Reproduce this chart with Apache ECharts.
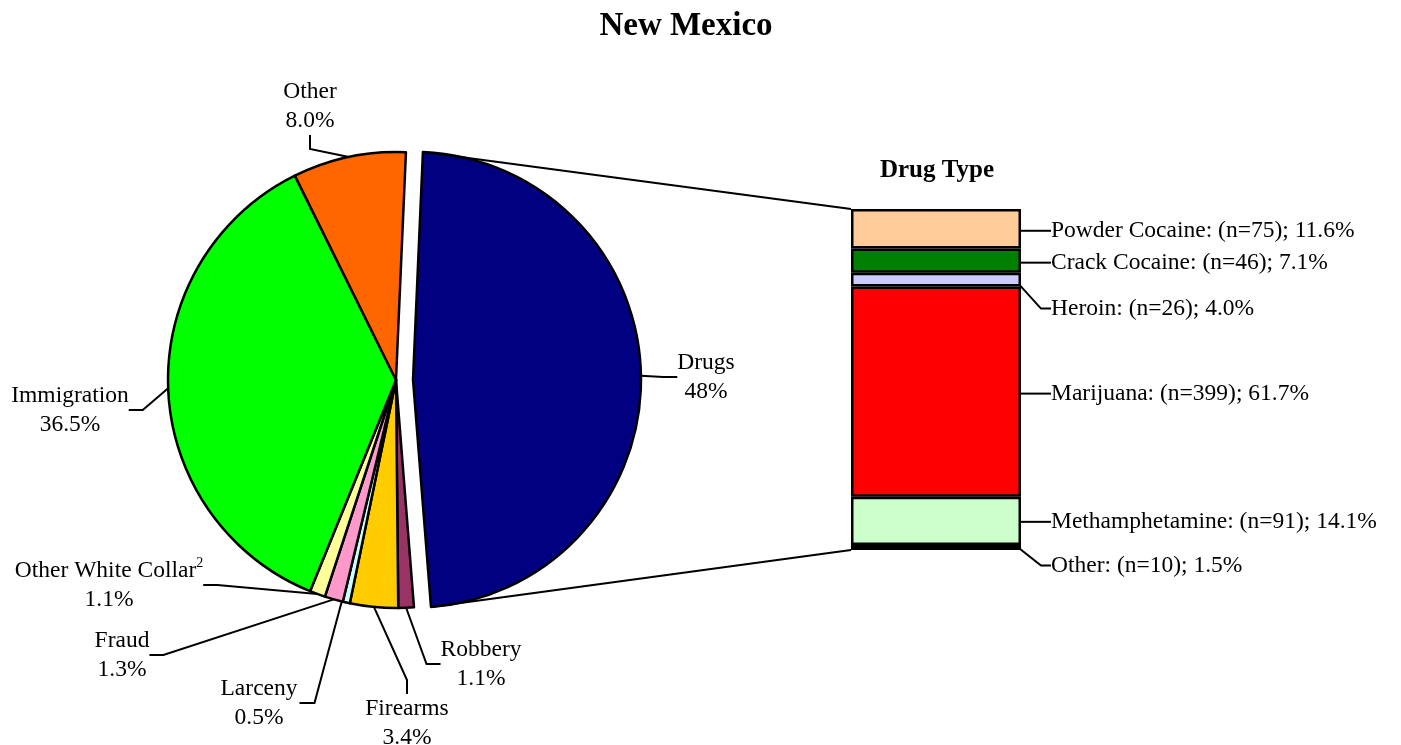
<!DOCTYPE html>
<html><head><meta charset="utf-8">
<script src="https://cdn.jsdelivr.net/npm/echarts@6/dist/echarts.min.js"></script>
<style>html,body{margin:0;padding:0;background:#fff}#c{width:1401px;height:745px}</style>
</head><body><div id="c"></div>
<script>
// ---- data ----
const pieNames = ['Drugs','Robbery','Firearms','Larceny','Fraud','Other White Collar','Immigration','Other'];
const pieValues = [48, 1.1, 3.4, 0.5, 1.3, 1.1, 36.5, 8.0];
const pieLabels = ['48%','1.1%','3.4%','0.5%','1.3%','1.1%','36.5%','8.0%'];
const pieFootnotes = ['','','','','','2','',''];

const drugTypes = ['Powder Cocaine','Crack Cocaine','Heroin','Marijuana','Methamphetamine','Other'];
const drugCounts = [75, 46, 26, 399, 91, 10];
const drugPcts = [11.6, 7.1, 4.0, 61.7, 14.1, 1.5];

// ---- styles ----
const pieColors = ['#000080','#993366','#FFCC00','#CCFFFF','#FF99CC','#FFFF99','#00FF00','#FF6600'];
const pieLabelPos = [[706,377],[481,664],[407,723],[259,703],[122,655],[109,585],[70,410],[310,106]];
const sideLeaderIdx = 3; // Larceny: leader leaves from the label's right side
const drugColors = ['#FFCC99','#008000','#CCCCFF','#FF0000','#CCFFCC','#000000'];
const drugLabelDy = [2, 2, 29, 2, 1, 18];
const FONT = 'Liberation Serif, Times New Roman, serif';
const FS = 23.5;
const BAR_W = 170;
const OFFSET = 17;
const CENTER = [396, 380];
const RADIUS = 228;
const START = 87.5;
const BORDER = 2.5;

const TRANSPARENT = 'rgba(0,0,0,0)';
const pieSum = pieValues.reduce((a, b) => a + b, 0);
const midDeg = -START + (pieValues[0] / pieSum) * 180;
const explodedCenter = [CENTER[0] + OFFSET * Math.cos(midDeg * Math.PI / 180),
                        CENTER[1] + OFFSET * Math.sin(midDeg * Math.PI / 180)];

const chart = echarts.init(document.getElementById('c'));

const labelBase = {
  show: true, position: 'outside', color: '#000', fontSize: FS, lineHeight: 29, fontFamily: FONT,
  formatter: (p) => pieNames[p.dataIndex] +
    (pieFootnotes[p.dataIndex] ? '{sup|' + pieFootnotes[p.dataIndex] + '}' : '') +
    '\n' + pieLabels[p.dataIndex],
  rich: { sup: { fontSize: 14, fontFamily: FONT, color: '#000', verticalAlign: 'top', lineHeight: 14 } }
};
const lineBase = { show: true, length: 10, length2: 14, lineStyle: { color: '#000', width: 2 } };
const pieLabelLayout = (p) => {
  const pos = pieLabelPos[p.dataIndex];
  const out = { x: pos[0], y: pos[1], align: 'center', verticalAlign: 'middle' };
  if (p.dataIndex === sideLeaderIdx) {
    const x0 = pos[0] + p.labelRect.width / 2 + 2;
    out.labelLinePoints = [[p.rect.x + 1, p.rect.y + p.rect.height - 6], [x0 + 15, pos[1]], [x0, pos[1]]];
  }
  return out;
};

// main pie (Drugs slice hidden) + exploded pie (only Drugs visible)
const mainPie = {
  type: 'pie', center: CENTER, radius: RADIUS, startAngle: START, clockwise: true,
  avoidLabelOverlap: false, silent: true,
  data: pieNames.map((n, i) => i === 0
    ? { name: n, value: pieValues[i], itemStyle: { color: TRANSPARENT, borderWidth: 0 },
        label: { show: false }, labelLine: { show: false } }
    : { name: n, value: pieValues[i], itemStyle: { color: pieColors[i] } }),
  itemStyle: { borderColor: '#000', borderWidth: BORDER },
  label: labelBase, labelLine: lineBase, labelLayout: pieLabelLayout,
  emphasis: { disabled: true }
};
const explodedPie = {
  type: 'pie', center: explodedCenter, radius: RADIUS, startAngle: START, clockwise: true,
  avoidLabelOverlap: false, silent: true,
  data: pieNames.map((n, i) => i === 0
    ? { name: n, value: pieValues[i], itemStyle: { color: pieColors[i], borderColor: '#000', borderWidth: BORDER } }
    : { name: n, value: pieValues[i], itemStyle: { color: TRANSPARENT, borderWidth: 0 },
        label: { show: false }, labelLine: { show: false } }),
  label: labelBase, labelLine: lineBase, labelLayout: pieLabelLayout,
  emphasis: { disabled: true }
};

const barSeries = [];
for (let i = drugTypes.length - 1; i >= 0; i--) {
  barSeries.push({
    type: 'bar', stack: 'drug', name: drugTypes[i],
    data: [drugPcts[i]], barWidth: BAR_W, silent: true,
    itemStyle: { color: drugColors[i], borderColor: '#000', borderWidth: BORDER },
    label: {
      show: true, position: 'right', color: '#000', fontSize: FS, fontFamily: FONT,
      formatter: () => drugTypes[i] + ': (n=' + drugCounts[i] + '); ' + drugPcts[i].toFixed(1) + '%'
    },
    labelLine: { show: true, length2: 10, lineStyle: { color: '#000', width: 2 } },
    labelLayout: (p) => ({
      x: p.rect.x + p.rect.width + 30,
      y: p.rect.y + p.rect.height / 2 + drugLabelDy[i],
      align: 'left', verticalAlign: 'middle'
    }),
    emphasis: { disabled: true }
  });
}

const option = {
  animation: false,
  backgroundColor: '#fff',
  title: [
    { text: 'New Mexico', left: 681, top: 5, textAlign: 'center',
      textStyle: { fontFamily: FONT, fontSize: 33, fontWeight: 'bold', color: '#000' } },
    { text: 'Drug Type', left: 932, top: 153, textAlign: 'center',
      textStyle: { fontFamily: FONT, fontSize: 25, fontWeight: 'bold', color: '#000' } }
  ],
  grid: { left: 851, top: 209, width: BAR_W, height: 341 },
  xAxis: { type: 'category', data: [''], show: false },
  yAxis: { type: 'value', min: 0, max: 100, show: false },
  series: [mainPie, explodedPie].concat(barSeries)
};
chart.setOption(option);

// connector lines from the exploded Drugs slice to the stacked bar
try {
  const lay = chart.getModel().getSeriesByIndex(1).getData().getItemLayout(0);
  const p1 = [lay.cx + lay.r * Math.cos(lay.startAngle), lay.cy + lay.r * Math.sin(lay.startAngle)];
  const p2 = [lay.cx + lay.r * Math.cos(lay.endAngle), lay.cy + lay.r * Math.sin(lay.endAngle)];
  const yTop = chart.convertToPixel({ yAxisIndex: 0 }, 100);
  const yBot = chart.convertToPixel({ yAxisIndex: 0 }, 0);
  const xLeft = chart.convertToPixel({ xAxisIndex: 0 }, 0) - BAR_W / 2;
  chart.setOption({
    graphic: [
      { type: 'line', shape: { x1: p1[0], y1: p1[1], x2: xLeft, y2: yTop }, style: { stroke: '#000', lineWidth: 2 }, z: 10 },
      { type: 'line', shape: { x1: p2[0], y1: p2[1], x2: xLeft, y2: yBot }, style: { stroke: '#000', lineWidth: 2 }, z: 10 }
    ]
  });
} catch (e) { console.error(e); }
</script>
</body></html>
